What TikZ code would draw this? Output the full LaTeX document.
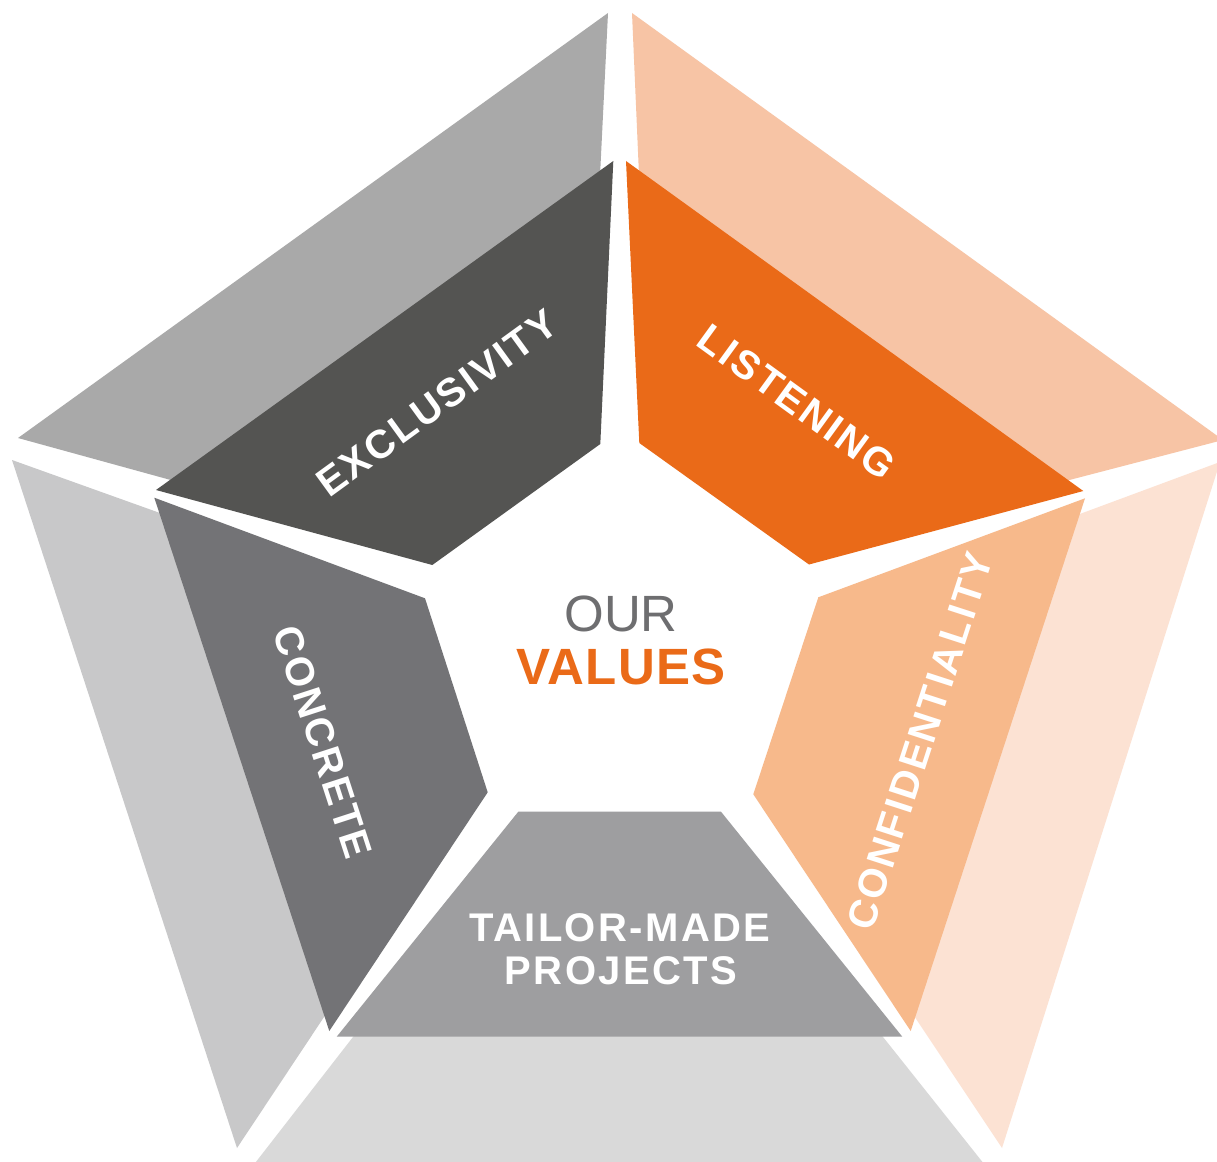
\documentclass[tikz,border=0pt]{standalone}
\usepackage{fontspec}
\setmainfont{Liberation Sans}
\newfontfamily\lblfont{Liberation Sans}[LetterSpace=6]
\newfontfamily\valfont{Liberation Sans}[LetterSpace=2.5]
\definecolor{cdark}{HTML}{545452}
\definecolor{corange}{HTML}{EA6A18}
\definecolor{cconcrete}{HTML}{737376}
\definecolor{cpeach}{HTML}{F7B98B}
\definecolor{ctailor}{HTML}{9E9EA0}
\definecolor{otl}{HTML}{A9A9A9}
\definecolor{otr}{HTML}{F7C4A5}
\definecolor{oleft}{HTML}{C8C8C9}
\definecolor{oright}{HTML}{FCE2D3}
\definecolor{obottom}{HTML}{D9D9D9}
\definecolor{ourgrey}{HTML}{6E6E70}
\begin{document}
\begin{tikzpicture}[x=1pt,y=-1pt,
  lbl/.style={text=white, inner sep=0pt, font=\lblfont\bfseries\fontsize{40}{48}\selectfont},
  ourtxt/.style={text=ourgrey, inner sep=0pt, font=\fontsize{51}{60}\selectfont},
  valtxt/.style={text=corange, inner sep=0pt, font=\valfont\bfseries\fontsize{51}{60}\selectfont}]
\useasboundingbox (0,0) rectangle (1217,1161);
\clip (0,0) rectangle (1217,1161);
\fill[white] (0,0) rectangle (1217,1161);
% outer ring
\fill[otl] (18,438) -- (608,13) -- (599.9,178) -- (178,482) -- cycle;
\fill[otr] (632,13) -- (1223,440) -- (1064,481.4) -- (639,175) -- cycle;
\fill[oleft] (12,460) -- (170,516.6) -- (332,1005) -- (237,1148) -- cycle;
\fill[oright] (1220,462) -- (1002,1148) -- (906.8,1005) -- (1072,516.9) -- cycle;
\fill[obottom] (362.3,1025) -- (873.5,1025) -- (992.8,1175) -- (245.8,1175) -- cycle;
% inner ring
\fill[cdark] (156,490) -- (613.3,161) -- (600.3,444) -- (432.3,565) -- cycle;
\fill[corange] (626,161) -- (1083.3,491) -- (809,564.5) -- (639.3,443) -- cycle;
\fill[cconcrete] (154.3,497.7) -- (425,598.3) -- (487.7,792.3) -- (329.3,1031) -- cycle;
\fill[cpeach] (1085,498.3) -- (818.3,597.3) -- (753.3,794.3) -- (910.7,1031) -- cycle;
\fill[ctailor] (518.3,811.7) -- (721,811.7) -- (902.3,1036.7) -- (336.7,1036.7) -- cycle;
% labels
\node[lbl, rotate=36] (excl) at (437,403) {EXCLUSIVITY};
\node[lbl, rotate=-36] (list) at (797,402) {LISTENING};
\node[lbl, rotate=-72] (conc) at (323,742) {CONCRETE};
\node[lbl, rotate=72] (conf) at (920,741) {CONFIDENTIALITY};
\node[lbl] (tm1) at (620,928) {TAILOR-MADE};
\node[lbl] (tm2) at (621,970.5) {PROJECTS};
\node[ourtxt] (our) at (621,614) {OUR};
\node[valtxt] (values) at (621,667) {VALUES};
\end{tikzpicture}
\end{document}
